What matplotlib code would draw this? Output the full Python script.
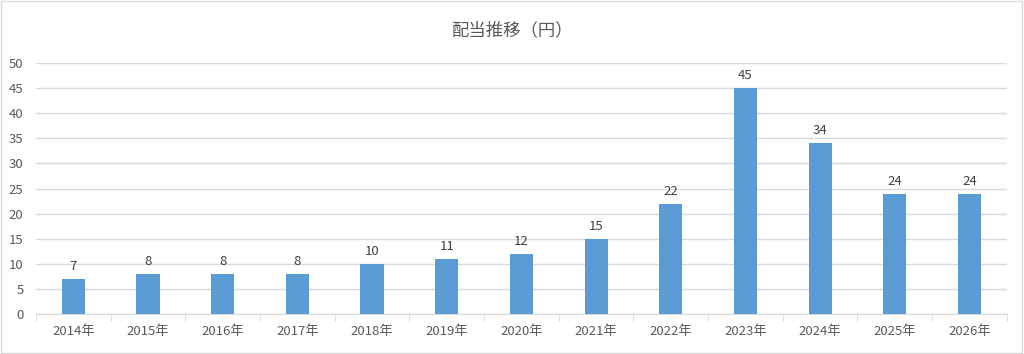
import matplotlib.pyplot as plt
from matplotlib.patches import Rectangle

plt.rcParams['font.family'] = ['Noto Sans CJK JP', 'DejaVu Sans']

years = ['2014年', '2015年', '2016年', '2017年', '2018年', '2019年', '2020年',
         '2021年', '2022年', '2023年', '2024年', '2025年', '2026年']
dividends = [7, 8, 8, 8, 10, 11, 12, 15, 22, 45, 34, 24, 24]

fig = plt.figure(figsize=(10.24, 3.54), dpi=100)
ax = fig.add_axes([0.0352, 0.113, 0.948, 0.709])

x = list(range(len(years)))
bars = ax.bar(x, dividends, width=0.31, color='#5B9BD5', zorder=3)
for xi, v in zip(x, dividends):
    ax.text(xi, v + 1.2, str(v), ha='center', va='bottom', fontsize=9.5, color='#404040')

ax.set_xlim(-0.5, len(years) - 0.5)
ax.set_ylim(0, 50)
ax.set_yticks(range(0, 51, 5))
ax.set_xticks(x)
ax.set_xticklabels(years)
ax.set_xticks([i - 0.5 for i in range(len(years) + 1)], minor=True)
ax.grid(axis='y', color='#D9D9D9', linewidth=1, zorder=0)
for s in ['top', 'right', 'left']:
    ax.spines[s].set_visible(False)
ax.spines['bottom'].set_color('#D9D9D9')
ax.tick_params(axis='y', length=0, labelsize=9.5, labelcolor='#595959', pad=9)
ax.tick_params(axis='x', which='major', length=0, labelsize=9.5, labelcolor='#595959', pad=8)
ax.tick_params(axis='x', which='minor', length=5, color='#D9D9D9')

fig.text(0.5, 0.915, '配当推移（円）', ha='center', va='center', fontsize=12.5, color='#595959')
fig.patches.append(Rectangle((0.001, 0.002), 0.997, 0.995, transform=fig.transFigure,
                             fill=False, edgecolor='#D9D9D9', linewidth=1))

fig.savefig('out.png', dpi=100)
